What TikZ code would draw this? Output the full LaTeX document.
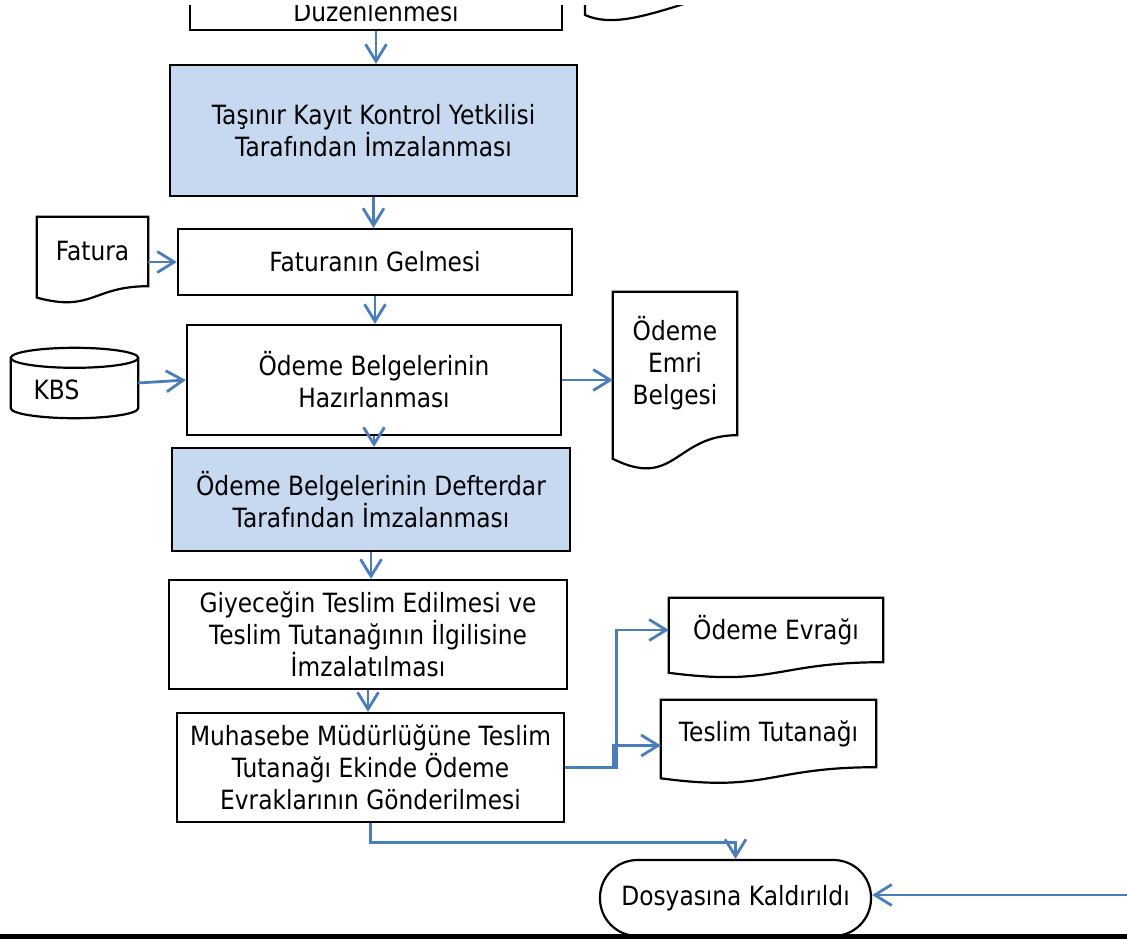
\documentclass[tikz,border=0pt]{standalone}
\usepackage{fontspec}
\setmainfont{DejaVu Sans}[FakeStretch=0.88]
\usetikzlibrary{arrows.meta,calc}
\definecolor{conn}{HTML}{4A7EBB}
\definecolor{boxfill}{HTML}{C6D9F1}
\tikzset{
  every node/.style={font=\fontsize{26.5}{32}\selectfont, align=center, inner sep=0pt},
  box/.style={draw=black, line width=2.2pt},
  outl/.style={draw=black, line width=2.2pt},
  arr/.style={draw=conn, line width=2.8pt, -{Straight Barb[length=17pt,width=21pt]}},
}
\newcommand\docline[1]{%
  \draw[outl] let \p1=(#1.north west), \p2=(#1.south east), \n1={\y1-\y2} in
  (\x1,\y1) -- (\x2,\y1) -- (\x2,\y2)
  .. controls ({(\x1+\x2)/2},\y2) and ({(\x1+\x2)/2},{\y2-0.381*\n1}) ..
  (\x1,{\y2-0.1646*\n1}) -- cycle;}
\newcommand\cylline[1]{%
  \draw[outl] let \p1=(#1.north west), \p2=(#1.south east), \n1={(\x2-\x1)/2} in
  ({\x1+\n1},{\y1-10pt}) ellipse[x radius=\n1, y radius=10pt]
  (\x1,{\y1-10pt}) -- (\x1,{\y2+10pt})
  arc[start angle=180, end angle=360, x radius=\n1, y radius=10pt]
  -- (\x2,{\y1-10pt});}
\begin{document}
\begin{tikzpicture}[x=1pt,y=-1pt]
\useasboundingbox (0,0) rectangle (1127,939);
\fill[white] (0,0) rectangle (1127,939);
\clip (0,6) rectangle (1127,939);

% boxes
\node[box, minimum width=372pt, text height=80pt, text depth=6pt, inner ysep=2pt, anchor=south] (b1) at (376,31) {Düzenlenmesi};
\node[box, fill=boxfill, minimum width=407pt, minimum height=131pt] (b2) at (373.5,130.5) {Taşınır Kayıt Kontrol Yetkilisi\\Tarafından İmzalanması};
\node[box, minimum width=394pt, minimum height=66pt] (b3) at (375,262) {Faturanın Gelmesi};
\node[box, minimum width=374pt, minimum height=110pt] (b4) at (374,380) {Ödeme Belgelerinin\\Hazırlanması};
\node[box, fill=boxfill, minimum width=398pt, minimum height=103pt] (b5) at (371,499.5) {Ödeme Belgelerinin Defterdar\\Tarafından İmzalanması};
\node[box, minimum width=398pt, minimum height=109pt] (b6) at (368,634.5) {Giyeceğin Teslim Edilmesi ve\\Teslim Tutanağının İlgilisine\\İmzalatılması};
\node[box, minimum width=387pt, minimum height=109pt] (b7) at (370.5,767.5) {Muhasebe Müdürlüğüne Teslim\\Tutanağı Ekinde Ödeme\\Evraklarının Gönderilmesi};
\node[box, rounded corners=37.5pt, minimum width=271pt, minimum height=76pt] (term) at (735.5,898) {Dosyasına Kaldırıldı};

% documents
\node[minimum width=111pt, minimum height=69pt] (fat) at (92.5,251.5) {Fatura};
\docline{fat}
\node[minimum width=124pt, minimum height=143pt] (emri) at (675,363.5) {Ödeme\\Emri\\Belgesi};
\docline{emri}
\node[minimum width=214pt, minimum height=64pt] (evr) at (776,630) {Ödeme Evrağı};
\docline{evr}
\node[minimum width=215pt, minimum height=67pt] (tes) at (768.5,733.5) {Teslim Tutanağı};
\docline{tes}

% top-right document fragment
\draw[outl] (585,-20) -- (585,15) .. controls (610,26) and (640,18) .. (690,2);

% KBS cylinder
\node[minimum width=127pt, minimum height=70pt] (kbs) at (74.5,383) {};
\cylline{kbs}
\node (kbst) at ($(kbs.center)+(-18,7)$) {KBS};

% connectors
\draw[arr] (b1.south) -- (b1.south |- b2.north);
\draw[arr] (b2.south) -- (b2.south |- b3.north);
\draw[arr] (b3.south) -- (b3.south |- b4.north);
\draw[arr] (b4.south) -- (b4.south |- b5.north);
\draw[arr] (b5.south) -- (b5.south |- b6.north);
\draw[arr] (b6.south) -- (b6.south |- b7.north);
\draw[arr] (fat.east |- b3.west) -- (b3.west);
\draw[arr] (kbs.east) -- (b4.west);
\draw[arr] (b4.east) -- (b4.east -| emri.west);
\draw[arr] (b7.east) -- ++(51,0) |- (evr.west);
\draw[arr] (b7.east) -- ++(48,0) |- ($(tes.west)+(0,12)$);
\draw[arr] (b7.south) -- ++(0,19) -| (term.north);
\coordinate (rgt) at (1127,895);
\draw[arr] (rgt) -- (rgt -| term.east);

% bottom bar
\fill[black] (0,934) rectangle (1127,939);
\end{tikzpicture}
\end{document}
